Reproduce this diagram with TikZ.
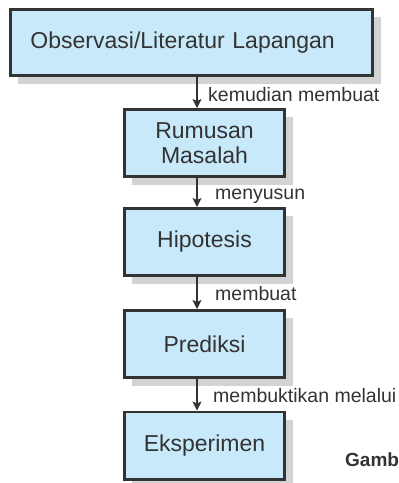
\documentclass[tikz,border=0pt]{standalone}
\usepackage{fontspec}
\setmainfont{Liberation Sans}
\usetikzlibrary{arrows.meta,shadows}
\definecolor{boxfill}{HTML}{C8E9FA}
\definecolor{edge}{HTML}{333333}
\definecolor{shade}{HTML}{D3D3D3}
\begin{document}
\begin{tikzpicture}[x=1pt,y=-1pt,
  stepbox/.style={draw=edge, line width=2.6pt, fill=boxfill, text=edge,
    font=\fontsize{23}{25}\selectfont, align=center, inner sep=0pt,
    drop shadow={shadow xshift=8pt, shadow yshift=-8pt, fill=shade, opacity=1}},
  flow/.style={draw=edge, line width=1.3pt, -{Stealth[length=9pt,width=9pt,inset=2pt]}},
  lbl/.style={anchor=base west, inner sep=0pt, text=edge, font=\fontsize{19.5}{22}\selectfont}]
\useasboundingbox (0,0) rectangle (399,483);
\clip (0,0) rectangle (399,483);

% process boxes
\node[stepbox, minimum width=362.4pt, minimum height=66.4pt,
      text width=322pt, align=left] (obs) at (191.5,42.5)
      {Observasi/Literatur Lapangan};
\node[stepbox, minimum width=160.4pt, minimum height=67.4pt] (rum) at (204.5,143)
      {Rumusan\\Masalah};
\node[stepbox, minimum width=160.4pt, minimum height=67.4pt] (hip) at (204.5,242)
      {Hipotesis};
\node[stepbox, minimum width=160.4pt, minimum height=67.4pt] (pre) at (204.5,344)
      {Prediksi};
\node[stepbox, minimum width=160.4pt, minimum height=67.4pt] (eks) at (204.5,445.5)
      {Eksperimen};

% vertical line on which all arrows run
\coordinate (ax) at (197,0);

\draw[flow] (obs.south -| ax) -- (rum.north -| ax);
\draw[flow] (rum.south -| ax) -- (hip.north -| ax);
\draw[flow] (hip.south -| ax) -- (pre.north -| ax);
\draw[flow] (pre.south -| ax) -- (eks.north -| ax);

% arrow labels
\node[lbl] (l1) at (208,101) {kemudian membuat};
\node[lbl] (l2) at (215,199) {menyusun};
\node[lbl] (l3) at (215,300) {membuat};
\node[lbl] (l4) at (213,402) {membuktikan melalui};

% caption, running off the right edge
\node[anchor=base west, inner sep=0pt, text=edge,
      font=\fontsize{19}{22}\selectfont\bfseries] (cap) at (345,466) {Gambar};
\end{tikzpicture}
\end{document}
